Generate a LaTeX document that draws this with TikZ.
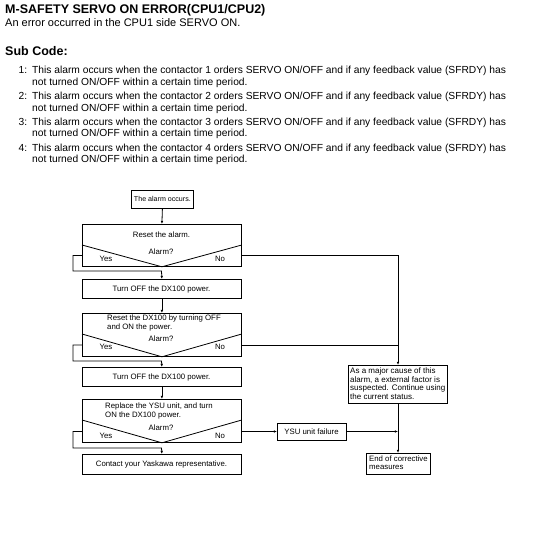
\documentclass[tikz,border=0pt]{standalone}
\usepackage{fontspec}
\setmainfont{Liberation Sans}
\usetikzlibrary{arrows.meta}
\begin{document}
\begin{tikzpicture}[x=1pt,y=-1pt,
  box/.style={draw, line width=0.8pt, inner sep=0pt, anchor=north west},
  ln/.style={line width=0.8pt},
  arr/.style={line width=0.8pt, -{Latex[length=3.2pt,width=2.6pt]}},
  ft/.style={font=\fontsize{7.8}{8.5}\selectfont, inner sep=0pt},
  fl/.style={ft, anchor=base west},
  fc/.style={ft, anchor=base},
  fm/.style={font=\fontsize{8.0}{8.5}\selectfont, inner sep=0pt, anchor=base west},
  ht/.style={font=\fontsize{10.25}{12}\selectfont, inner sep=0pt, anchor=base west},
  hb/.style={font=\fontsize{12.5}{14}\selectfont\bfseries, inner sep=0pt, anchor=base west},
]
\useasboundingbox[fill=white] (0,0) rectangle (535,545);

% header
\node[hb] (title) at (5,13.5) {M-SAFETY SERVO ON ERROR(CPU1/CPU2)};
\node[font=\fontsize{11}{13}\selectfont, inner sep=0pt, anchor=base west] (sub) at (5,27) {An error occurred in the CPU1 side SERVO ON.};
\node[hb] (sc) at (5,56) {Sub Code:};
\node[ht] (n1) at (18.5,73.6) {1:};
\node[ht] (l1a) at (32,73.6) {This alarm occurs when the contactor 1 orders SERVO ON/OFF and if any feedback value (SFRDY) has};
\node[ht] (l1b) at (32,85.3) {not turned ON/OFF within a certain time period.};
\node[ht] (n2) at (18.5,99.3) {2:};
\node[ht] (l2a) at (32,99.3) {This alarm occurs when the contactor 2 orders SERVO ON/OFF and if any feedback value (SFRDY) has};
\node[ht] (l2b) at (32,111.3) {not turned ON/OFF within a certain time period.};
\node[ht] (n3) at (18.5,125.3) {3:};
\node[ht] (l3a) at (32,125.3) {This alarm occurs when the contactor 3 orders SERVO ON/OFF and if any feedback value (SFRDY) has};
\node[ht] (l3b) at (32,137) {not turned ON/OFF within a certain time period.};
\node[ht] (n4) at (18.5,151.3) {4:};
\node[ht] (l4a) at (32,151.3) {This alarm occurs when the contactor 4 orders SERVO ON/OFF and if any feedback value (SFRDY) has};
\node[ht] (l4b) at (32,163) {not turned ON/OFF within a certain time period.};

% flowchart boxes
\node[box, minimum width=62pt, minimum height=18pt] (a0) at (131,190) {};
\node[fc, font=\fontsize{7.1}{8.5}\selectfont] (a0t) at (a0.center) [yshift=-2.5pt] {The alarm occurs.};

\node[box, minimum width=159pt, minimum height=42pt] (r1) at (82,224) {};
\node[box, minimum width=159pt, minimum height=19pt] (t1) at (82,279) {};
\node[box, minimum width=159pt, minimum height=43pt] (r2) at (82,313) {};
\node[box, minimum width=159pt, minimum height=19pt] (t2) at (82,367) {};
\node[box, minimum width=159pt, minimum height=43pt] (r3) at (82,399) {};
\node[box, minimum width=159pt, minimum height=20pt] (ct) at (82,454) {};
\node[box, minimum width=69pt, minimum height=17pt] (ysu) at (277,423) {};
\node[box, minimum width=99pt, minimum height=38pt] (mj) at (348,365) {};
\node[box, minimum width=64pt, minimum height=21pt] (en) at (366,453) {};

% texts
\node[fc] (r1t) at (161.5,237) {Reset the alarm.};
\node[fc] (r1q) at (161,254.5) {Alarm?};
\node[fc] (r1y) at (106,261.5) {Yes};
\node[fc] (r1n) at (220,261.5) {No};
\node[fc] (t1t) at (161.5,291) {Turn OFF the DX100 power.};
\node[fl] (r2t1) at (107,320.5) {Reset the DX100 by turning OFF};
\node[fl] (r2t2) at (107,329.3) {and ON the power.};
\node[fc] (r2q) at (161,341.5) {Alarm?};
\node[fc] (r2y) at (106,349.5) {Yes};
\node[fc] (r2n) at (220,349.5) {No};
\node[fc] (t2t) at (161.5,379) {Turn OFF the DX100 power.};
\node[fl] (r3t1) at (105,408.5) {Replace the YSU unit, and turn};
\node[fl] (r3t2) at (105,417) {ON the DX100 power.};
\node[fc] (r3q) at (161,430.5) {Alarm?};
\node[fc] (r3y) at (106,438.5) {Yes};
\node[fc] (r3n) at (220,438.5) {No};
\node[fc] (ctt) at (161.5,466.5) {Contact your Yaskawa representative.};
\node[fc] (ysut) at (311.5,434.2) {YSU unit failure};
\node[fm] (mj1) at (350,373.5) {As a major cause of this};
\node[fm] (mj2) at (350,382) {alarm, a external factor is};
\node[fm] (mj3) at (350,390.5) {suspected. Continue using};
\node[fm] (mj4) at (350,399) {the current status.};
\node[fl] (en1) at (369,461.5) {End of corrective};
\node[fl] (en2) at (369,469.8) {measures};

% decision V shapes
\coordinate (r1s) at (161.5,245);
\coordinate (r2s) at (161.5,334);
\coordinate (r3s) at (161.5,420);
\draw[ln] (r1.west |- r1s) -- (r1.south) -- (r1.east |- r1s);
\draw[ln] (r2.west |- r2s) -- (r2.south) -- (r2.east |- r2s);
\draw[ln] (r3.west |- r3s) -- (r3.south) -- (r3.east |- r3s);

% coordinates for connectors
\coordinate (y1) at (161.5,255.5);
\coordinate (y2) at (161.5,345);
\coordinate (y3) at (161.5,431.5);
\coordinate (lx) at (73,0);
\coordinate (b1) at (161.5,271);
\coordinate (b2) at (161.5,361);
\coordinate (b3) at (161.5,448);
\coordinate (vx) at (398,0);
\coordinate (jn) at (398,431.5);

% main flow
\draw[arr] (a0.south) -- (r1.north);
\draw[arr] (t1.south) -- (r2.north);
\draw[arr] (t2.south) -- (r3.north);

% Yes loops
\draw[arr] (r1.west |- y1) -- (lx |- y1) -- (lx |- b1) -- (b1) -- (t1.north);
\draw[arr] (r2.west |- y2) -- (lx |- y2) -- (lx |- b2) -- (b2) -- (t2.north);
\draw[arr] (r3.west |- y3) -- (lx |- y3) -- (lx |- b3) -- (b3) -- (ct.north);

% No branches
\draw[arr] (r1.east |- y1) -- (vx |- y1) -- (vx |- mj.north);
\draw[ln] (r2.east |- y2) -- (vx |- y2);
\draw[arr] (r3.east |- y3) -- (ysu.west |- y3);
\draw[arr] (ysu.east |- y3) -- (jn);
\draw[arr] (vx |- mj.south) -- (vx |- en.north);
\end{tikzpicture}
\end{document}
